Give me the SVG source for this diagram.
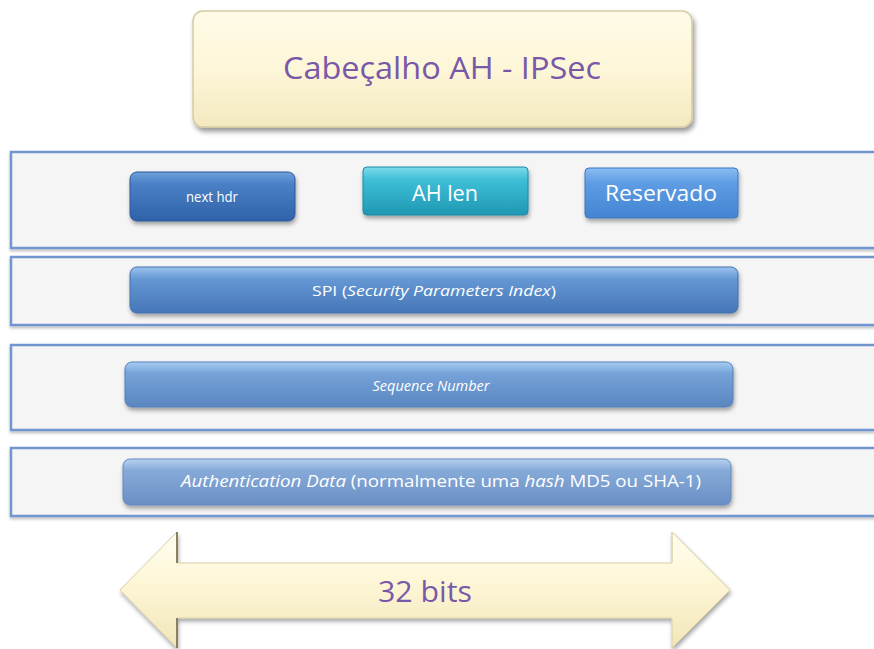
<svg xmlns="http://www.w3.org/2000/svg" width="874" height="649" viewBox="0 0 874 649">
  <defs>
    <linearGradient id="cream" x1="0" y1="0" x2="0" y2="1">
      <stop offset="0" stop-color="#fffbe8"/>
      <stop offset="0.5" stop-color="#fdf6d8"/>
      <stop offset="1" stop-color="#f3e8bf"/>
    </linearGradient>
    <linearGradient id="arrowFill" x1="0" y1="0" x2="0" y2="1">
      <stop offset="0" stop-color="#fffdf0"/>
      <stop offset="0.45" stop-color="#fdf6d6"/>
      <stop offset="1" stop-color="#f1e5b8"/>
    </linearGradient>
    <linearGradient id="gDark" x1="0" y1="0" x2="0" y2="1">
      <stop offset="0" stop-color="#6fa0dc"/>
      <stop offset="0.25" stop-color="#4a80c6"/>
      <stop offset="1" stop-color="#2f62a8"/>
    </linearGradient>
    <linearGradient id="gTeal" x1="0" y1="0" x2="0" y2="1">
      <stop offset="0" stop-color="#7fdcec"/>
      <stop offset="0.25" stop-color="#3fc0d8"/>
      <stop offset="1" stop-color="#1f97b3"/>
    </linearGradient>
    <linearGradient id="gRes" x1="0" y1="0" x2="0" y2="1">
      <stop offset="0" stop-color="#8cbcf0"/>
      <stop offset="0.3" stop-color="#5e9de4"/>
      <stop offset="1" stop-color="#4384d2"/>
    </linearGradient>
    <linearGradient id="gSpi" x1="0" y1="0" x2="0" y2="1">
      <stop offset="0" stop-color="#9cc4ee"/>
      <stop offset="0.25" stop-color="#6598d4"/>
      <stop offset="1" stop-color="#4676b8"/>
    </linearGradient>
    <linearGradient id="gSeq" x1="0" y1="0" x2="0" y2="1">
      <stop offset="0" stop-color="#a8cdf2"/>
      <stop offset="0.25" stop-color="#75a2d8"/>
      <stop offset="1" stop-color="#5a86c0"/>
    </linearGradient>
    <linearGradient id="gAuth" x1="0" y1="0" x2="0" y2="1">
      <stop offset="0" stop-color="#b6d2f0"/>
      <stop offset="0.25" stop-color="#86aad8"/>
      <stop offset="1" stop-color="#6a8fc4"/>
    </linearGradient>
    <filter id="shadow" x="-10%" y="-20%" width="120%" height="150%">
      <feDropShadow dx="1" dy="3" stdDeviation="2" flood-color="#000" flood-opacity="0.35"/>
    </filter>
    <filter id="titleShadow" x="-10%" y="-20%" width="120%" height="150%">
      <feDropShadow dx="2" dy="4" stdDeviation="2.5" flood-color="#000" flood-opacity="0.4"/>
    </filter>
    <filter id="panelShadow" x="-5%" y="-10%" width="110%" height="130%">
      <feDropShadow dx="0" dy="2" stdDeviation="1.5" flood-color="#000" flood-opacity="0.25"/>
    </filter>
  </defs>
  <style>
    .panel { fill: #f5f5f5; stroke: #6f95cf; stroke-width: 2.5; }
    .btn { filter: url(#shadow); }
    .lbl { font-family: "Open Sans", "Liberation Sans", sans-serif; fill: #ffffff; text-anchor: middle; }
    .purple { font-family: "Open Sans", "Liberation Sans", sans-serif; fill: #7a58a8; text-anchor: middle; }
  </style>

  <rect width="874" height="649" fill="#ffffff"/>

  <!-- header title -->
  <g id="title">
    <rect x="193" y="11" width="499" height="116" rx="10" fill="url(#cream)" stroke="#d6cca2" stroke-width="1.5" filter="url(#titleShadow)"/>
    <text class="purple" x="442" y="79" font-size="31" textLength="318" lengthAdjust="spacingAndGlyphs">Cabeçalho  AH - IPSec</text>
  </g>

  <!-- word 1: next header, length, reserved -->
  <g id="row1">
    <rect class="panel" x="11" y="152" width="880" height="96" filter="url(#panelShadow)"/>
  </g>
  <g id="next-hdr">
    <rect class="btn" x="130" y="172" width="165" height="49" rx="7" fill="url(#gDark)" stroke="#2b5a9a" stroke-width="1"/>
    <text class="lbl" x="212" y="202" font-size="14" textLength="52" lengthAdjust="spacingAndGlyphs">next hdr</text>
  </g>
  <g id="ah-len">
    <rect class="btn" x="363" y="167" width="165" height="48" rx="4" fill="url(#gTeal)" stroke="#1d8aa5" stroke-width="1"/>
    <text class="lbl" x="445" y="201" font-size="21" textLength="66" lengthAdjust="spacingAndGlyphs">AH len</text>
  </g>
  <g id="reservado">
    <rect class="btn" x="585" y="168" width="153" height="50" rx="4" fill="url(#gRes)" stroke="#3d78c0" stroke-width="1"/>
    <text class="lbl" x="661" y="201" font-size="21" textLength="112" lengthAdjust="spacingAndGlyphs">Reservado</text>
  </g>

  <!-- word 2: SPI -->
  <g id="row2">
    <rect class="panel" x="11" y="257" width="880" height="68" filter="url(#panelShadow)"/>
  </g>
  <g id="spi">
    <rect class="btn" x="130" y="267" width="608" height="46" rx="7" fill="url(#gSpi)" stroke="#4070b0" stroke-width="1"/>
    <text class="lbl" x="434" y="296" font-size="15" textLength="244" lengthAdjust="spacingAndGlyphs">SPI (<tspan font-style="italic">Security Parameters Index</tspan>)</text>
  </g>

  <!-- word 3: sequence number -->
  <g id="row3">
    <rect class="panel" x="11" y="345" width="880" height="85" filter="url(#panelShadow)"/>
  </g>
  <g id="sequence">
    <rect class="btn" x="125" y="362" width="608" height="45" rx="7" fill="url(#gSeq)" stroke="#5580bb" stroke-width="1"/>
    <text class="lbl" x="431" y="391" font-size="15" font-style="italic" textLength="117" lengthAdjust="spacingAndGlyphs">Sequence Number</text>
  </g>

  <!-- word 4: authentication data -->
  <g id="row4">
    <rect class="panel" x="11" y="448" width="880" height="68" filter="url(#panelShadow)"/>
  </g>
  <g id="auth">
    <rect class="btn" x="123" y="459" width="608" height="46" rx="7" fill="url(#gAuth)" stroke="#6589bf" stroke-width="1"/>
    <text class="lbl" x="441" y="487" font-size="16" textLength="520" lengthAdjust="spacingAndGlyphs"><tspan font-style="italic">Authentication Data</tspan> (normalmente uma <tspan font-style="italic">hash</tspan> MD5 ou SHA-1)</text>
  </g>

  <!-- width indicator -->
  <g id="width-arrow">
    <polygon points="120,590 177,532 177,563 672,563 672,532 730,590 672,648 672,618 177,618 177,648" fill="url(#arrowFill)" stroke="#d9cfa4" stroke-width="1" filter="url(#shadow)"/>
    <polyline points="177,532 177,563" stroke="#8a8060" stroke-width="2" fill="none"/>
    <polyline points="672,532 672,563" stroke="#e6dcb4" stroke-width="2" fill="none"/>
    <polyline points="177,618 177,648" stroke="#8a8060" stroke-width="2" fill="none"/>
    <text class="purple" x="425" y="602" font-size="29" textLength="94" lengthAdjust="spacingAndGlyphs">32 bits</text>
  </g>
</svg>
